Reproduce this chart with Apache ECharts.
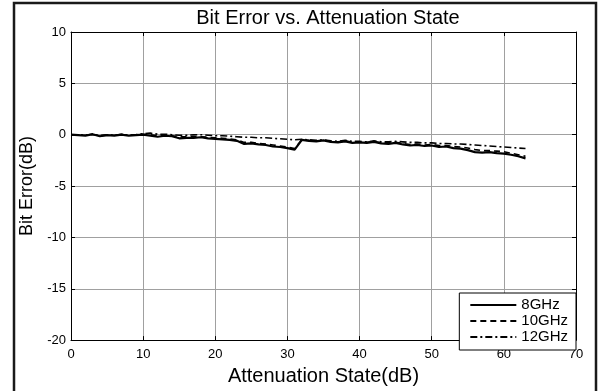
<!DOCTYPE html>
<html>
<head>
<meta charset="utf-8">
<script src="https://cdn.jsdelivr.net/npm/echarts@6/dist/echarts.min.js"></script>
<style>html,body{margin:0;padding:0;background:#fff;}#c{width:603px;height:391px;}</style>
</head>
<body>
<div id="c"></div>
<script>
var attenuation = [0,1,2,3,4,5,6,7,8,9,10,11,12,13,14,15,16,17,18,19,20,21,22,23,24,25,26,27,28,29,30,31,32,33,34,35,36,37,38,39,40,41,42,43,44,45,46,47,48,49,50,51,52,53,54,55,56,57,58,59,60,61,62,63];
var err8 = [0.0,-0.05,-0.1,0.05,-0.15,-0.05,-0.1,0.0,-0.1,-0.05,0.0,-0.1,-0.2,-0.1,-0.15,-0.35,-0.3,-0.3,-0.25,-0.35,-0.4,-0.45,-0.5,-0.6,-0.9,-0.85,-0.95,-1.0,-1.15,-1.2,-1.3,-1.45,-0.5,-0.6,-0.65,-0.55,-0.7,-0.75,-0.65,-0.8,-0.75,-0.8,-0.7,-0.85,-0.9,-0.8,-0.95,-1.05,-1.0,-1.1,-1.05,-1.2,-1.15,-1.3,-1.35,-1.5,-1.7,-1.75,-1.7,-1.8,-1.85,-1.95,-2.1,-2.3];
var err10 = [0.0,-0.05,-0.05,0.0,-0.1,-0.05,-0.05,0.0,-0.05,0.0,0.05,0.0,-0.1,-0.05,-0.1,-0.2,-0.2,-0.15,-0.2,-0.25,-0.3,-0.35,-0.4,-0.5,-0.75,-0.75,-0.85,-0.9,-1.0,-1.1,-1.2,-1.35,-0.5,-0.55,-0.6,-0.55,-0.65,-0.7,-0.6,-0.75,-0.7,-0.75,-0.65,-0.8,-0.8,-0.75,-0.85,-0.95,-0.9,-1.0,-0.95,-1.05,-1.05,-1.15,-1.2,-1.3,-1.45,-1.55,-1.55,-1.6,-1.65,-1.8,-1.95,-2.1];
var err12 = [0.0,0.0,-0.05,0.05,-0.1,0.0,-0.05,0.05,-0.05,0.0,0.1,0.15,0.05,0.05,0.0,-0.05,-0.05,0.0,0.0,-0.05,-0.1,-0.1,-0.15,-0.2,-0.25,-0.25,-0.3,-0.3,-0.35,-0.4,-0.45,-0.5,-0.45,-0.5,-0.55,-0.5,-0.6,-0.65,-0.55,-0.65,-0.65,-0.7,-0.6,-0.7,-0.7,-0.65,-0.7,-0.75,-0.75,-0.8,-0.8,-0.85,-0.85,-0.9,-0.9,-0.95,-1.0,-1.05,-1.1,-1.15,-1.2,-1.25,-1.3,-1.35];
var seriesNames = ['8GHz','10GHz','12GHz'];
var xTicks = [0,10,20,30,40,50,60,70];
var yTicks = [-20,-15,-10,-5,0,5,10];

var FONT = '"Liberation Sans", Arial, sans-serif';
function pairs(ys){ return attenuation.map(function(x,i){ return [x, ys[i]]; }); }

var chart = echarts.init(document.getElementById('c'), null, {renderer:'canvas'});
chart.setOption({
  animation:false,
  backgroundColor:'#fff',
  title:{text:'Bit Error vs. Attenuation State', left:323, top:3, textAlign:'center',
    textStyle:{fontFamily:FONT, fontSize:20, fontWeight:'normal', color:'#000'}},
  grid:{left:71, right:27, top:32, bottom:41, show:false},
  legend:{
    data:seriesNames, orient:'vertical', right:27, bottom:41,
    backgroundColor:'#fff', borderColor:'#000', borderWidth:1, borderRadius:0,
    padding:[4,8,5,10], itemWidth:46, itemHeight:12, itemGap:0,
    itemStyle:{color:'rgba(0,0,0,0)', borderWidth:0, opacity:0},
    textStyle:{fontFamily:FONT, fontSize:15, lineHeight:16, color:'#000'}
  },
  xAxis:[{
    type:'value', min:0, max:70, interval:10, position:'bottom',
    name:'Attenuation State(dB)', nameLocation:'middle', nameGap:22,
    nameTextStyle:{fontFamily:FONT, fontSize:20, color:'#000'},
    axisLine:{show:true, onZero:false, lineStyle:{color:'#000', width:1}},
    axisTick:{show:true, inside:true, length:4, lineStyle:{color:'#000'}},
    axisLabel:{fontFamily:FONT, fontSize:13, color:'#000', margin:8},
    splitLine:{show:true, lineStyle:{color:'#a0a0a0', width:1}}
  },{
    type:'value', min:0, max:70, interval:10, position:'top',
    axisLine:{show:true, onZero:false, lineStyle:{color:'#000', width:1}},
    axisTick:{show:true, inside:true, length:4, lineStyle:{color:'#000'}},
    axisLabel:{show:false}, splitLine:{show:false}
  }],
  yAxis:[{
    type:'value', min:-20, max:10, interval:5, position:'left',
    name:'Bit Error(dB)', nameLocation:'middle', nameGap:35,
    nameTextStyle:{fontFamily:FONT, fontSize:18, color:'#000'},
    axisLine:{show:true, onZero:false, lineStyle:{color:'#000', width:1}},
    axisTick:{show:true, inside:true, length:4, lineStyle:{color:'#000'}},
    axisLabel:{fontFamily:FONT, fontSize:13, color:'#000', margin:5},
    splitLine:{show:true, lineStyle:{color:'#a0a0a0', width:1}}
  },{
    type:'value', min:-20, max:10, interval:5, position:'right',
    axisLine:{show:true, onZero:false, lineStyle:{color:'#000', width:1}},
    axisTick:{show:true, inside:true, length:4, lineStyle:{color:'#000'}},
    axisLabel:{show:false}, splitLine:{show:false}
  }],
  series:[
    {name:seriesNames[0], type:'line', data:pairs(err8), symbol:'none', showSymbol:false,
      lineStyle:{color:'#000', width:2.2, type:'solid'}, itemStyle:{color:'#000'}, z:5},
    {name:seriesNames[1], type:'line', data:pairs(err10), symbol:'none', showSymbol:false,
      lineStyle:{color:'#000', width:1.6, type:[6,4]}, itemStyle:{color:'#000'}, z:4},
    {name:seriesNames[2], type:'line', data:pairs(err12), symbol:'none', showSymbol:false,
      lineStyle:{color:'#000', width:1.6, type:[7,3,2,3]}, itemStyle:{color:'#000'}, z:3}
  ],
  graphic:[{
    type:'rect', shape:{x:14, y:3, width:582, height:400},
    style:{fill:null, stroke:'#1a1a1a', lineWidth:2.5}, silent:true, z:100
  }]
});
</script>
</body>
</html>
